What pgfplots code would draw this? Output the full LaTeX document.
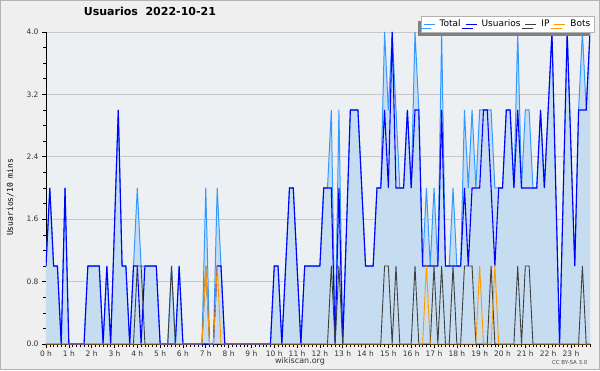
\documentclass[border=0pt]{standalone}
\usepackage{fontspec}
\setmainfont{DejaVu Sans}
\newfontfamily\monofont{DejaVu Sans Mono}
\usepackage{pgfplots}
\pgfplotsset{compat=1.18}
\usepackage{pgfplotstable}
\usetikzlibrary{shadows}

\definecolor{outerbg}{HTML}{EFEFEF}
\definecolor{plotbg}{HTML}{EDF0F3}
\definecolor{fillblue}{HTML}{C6DCF0}
\definecolor{totalc}{HTML}{3399FF}
\definecolor{userc}{HTML}{0000FF}
\definecolor{ipc}{HTML}{404040}
\definecolor{botc}{HTML}{FF9900}
\definecolor{gridc}{HTML}{C8C8C8}

\pgfplotstableread{
i total users ip bots
0 1 1 0 0
1 2 2 0 0
2 1 1 0 0
3 1 1 0 0
4 0 0 0 0
5 2 2 0 0
6 0 0 0 0
7 0 0 0 0
8 0 0 0 0
9 0 0 0 0
10 0 0 0 0
11 1 1 0 0
12 1 1 0 0
13 1 1 0 0
14 1 1 0 0
15 0 0 0 0
16 1 1 0 0
17 0 0 0 0
18 1.5 1.5 0 0
19 3 3 0 0
20 1 1 0 0
21 1 1 0 0
22 0 0 0 0
23 1 1 0 0
24 2 1 1 0
25 1 0 1 0
26 1 1 0 0
27 1 1 0 0
28 1 1 0 0
29 1 1 0 0
30 0 0 0 0
31 0 0 0 0
32 0 0 0 0
33 1 0 1 0
34 0 0 0 0
35 1 1 0 0
36 0 0 0 0
37 0 0 0 0
38 0 0 0 0
39 0 0 0 0
40 0 0 0 0
41 0 0 0 0
42 2 0 1 1
43 0 0 0 0
44 0 0 0 0
45 2 1 0 1
46 1 1 0 0
47 0 0 0 0
48 0 0 0 0
49 0 0 0 0
50 0 0 0 0
51 0 0 0 0
52 0 0 0 0
53 0 0 0 0
54 0 0 0 0
55 0 0 0 0
56 0 0 0 0
57 0 0 0 0
58 0 0 0 0
59 0 0 0 0
60 1 1 0 0
61 1 1 0 0
62 0 0 0 0
63 1 1 0 0
64 2 2 0 0
65 2 2 0 0
66 1 1 0 0
67 0 0 0 0
68 1 1 0 0
69 1 1 0 0
70 1 1 0 0
71 1 1 0 0
72 1 1 0 0
73 2 2 0 0
74 2 2 0 0
75 3 2 1 0
76 0 0 0 0
77 3 2 1 0
78 0 0 0 0
79 1.5 1.5 0 0
80 3 3 0 0
81 3 3 0 0
82 3 3 0 0
83 2 2 0 0
84 1 1 0 0
85 1 1 0 0
86 1 1 0 0
87 2 2 0 0
88 2 2 0 0
89 4 3 1 0
90 3 2 1 0
91 4 4 0 0
92 3 2 1 0
93 2 2 0 0
94 2 2 0 0
95 3 3 0 0
96 2 2 0 0
97 4 3 1 0
98 3 3 0 0
99 1 1 0 0
100 2 1 0 1
101 1 1 0 0
102 2 1 1 0
103 1 1 0 0
104 4 3 1 0
105 1 1 0 0
106 1 1 0 0
107 2 1 1 0
108 1 1 0 0
109 1 1 0 0
110 3 2 1 0
111 2 1 1 0
112 3 2 1 0
113 2 2 0 0
114 3 2 0 1
115 3 3 0 0
116 3 3 0 0
117 3 2 1 0
118 2 1 0 1
119 2 2 0 0
120 2 2 0 0
121 3 3 0 0
122 3 3 0 0
123 2 2 0 0
124 4 3 1 0
125 2 2 0 0
126 3 2 1 0
127 3 2 1 0
128 2 2 0 0
129 2 2 0 0
130 3 3 0 0
131 2 2 0 0
132 3 3 0 0
133 4 4 0 0
134 2 2 0 0
135 0 0 0 0
136 2 2 0 0
137 4 4 0 0
138 2.5 2.5 0 0
139 1 1 0 0
140 3 3 0 0
141 4 3 1 0
142 3 3 0 0
143 4 4 0 0
}\data

\begin{document}
\begin{tikzpicture}[x=1pt,y=1pt]
\path[use as bounding box] (0,0) rectangle (600,370);
\fill[outerbg] (0,0) rectangle (600,370);
\draw[gray!60, line width=1pt] (0.5,0.5) rectangle (599.5,369.5);
\begin{axis}[
  at={(46pt,26pt)}, anchor=south west,
  scale only axis, width=544pt, height=312pt,
  xmin=0, xmax=143, ymin=0, ymax=4,
  axis lines=left,
  axis line style={-, black, line width=0.8pt},
  axis background/.style={fill=plotbg},
  xtick={0,6,...,138},
  xticklabels={0 h,1 h,2 h,3 h,4 h,5 h,6 h,7 h,8 h,9 h,10 h,11 h,12 h,13 h,14 h,15 h,16 h,17 h,18 h,19 h,20 h,21 h,22 h,23 h},
  minor xtick={0,1,...,143},
  ytick={0,0.8,1.6,2.4,3.2,4},
  minor y tick num=3,
  tick align=outside,
  major tick length=4pt, minor tick length=3pt,
  tick style={black, line width=0.6pt},
  ymajorgrids, grid style={gridc, line width=0.8pt},
  /pgf/number format/assume math mode=true,
  yticklabel style={/pgf/number format/.cd, fixed, fixed zerofill, precision=1},
  tick label style={font=\fontsize{7.5}{9}\selectfont, text=black!80},
  xticklabel style={yshift=1pt},
  title={Usuarios\ \ 2022-10-21},
  title style={at={(axis description cs:0.191,1.048)}, anchor=center, font=\bfseries\fontsize{11}{13}\selectfont},
  ylabel={Usuarios/10 mins},
  ylabel style={at={(axis description cs:-0.066,0.47)}, anchor=center, font=\monofont\fontsize{8}{10}\selectfont},
  legend columns=4,
  legend style={at={(axis description cs:1.0074,1.05)}, anchor=north east,
    draw=gray!60, fill=white, font=\fontsize{9}{11}\selectfont, inner sep=1.5pt,
    drop shadow={shadow xshift=-3.5pt, shadow yshift=-4.5pt, fill=black!50, opacity=1},
    /tikz/every odd column/.append style={column sep=2.5pt},
    /tikz/every even column/.append style={column sep=2.5pt}},
  legend image code/.code={\draw[#1] (0pt,0pt) -- (11pt,0pt);},
]
\addplot[fill=fillblue, draw=none, forget plot] table[x=i, y=total] {\data} \closedcycle;
\addplot[totalc, line width=1pt] table[x=i, y=total] {\data};
\addlegendentry{Total}
\addplot[userc, line width=1.1pt] table[x=i, y=users] {\data};
\addlegendentry{Usuarios}
\addplot[ipc, line width=0.9pt] table[x=i, y=ip] {\data};
\addlegendentry{IP}
\addplot[botc, line width=0.9pt] table[x=i, y=bots] {\data};
\addlegendentry{Bots}
\end{axis}
\node[font=\fontsize{8}{10}\selectfont, text=black!80] at (300,9) {wikiscan.org};
\node[font=\fontsize{5.5}{7}\selectfont, text=black!70, anchor=east] at (591,8) {CC BY-SA 3.0};
\end{tikzpicture}
\end{document}
